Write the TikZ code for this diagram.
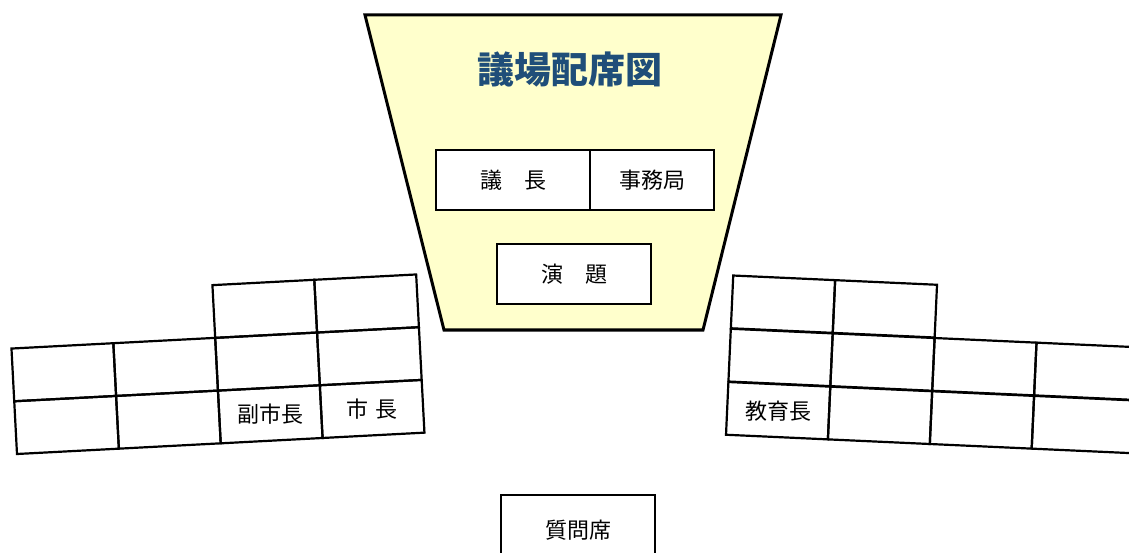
\documentclass[tikz,border=0pt]{standalone}
\usepackage{fontspec}
\newfontfamily\cjk{Noto Sans CJK JP}
\usepackage{xcolor}
\usetikzlibrary{positioning}
\definecolor{podium}{RGB}{255,255,204}
\definecolor{titleblue}{RGB}{31,78,121}
\tikzset{
	desk/.style={draw, line width=1pt, fill=white, inner sep=0pt, minimum height=30pt, font=\cjk\fontsize{11}{13}\selectfont},
	seat/.style={draw, line width=1.1pt, inner sep=0pt, minimum width=51pt, minimum height=26.4pt},
	seatlabel/.style={font=\cjk\fontsize{11}{13}\selectfont, inner sep=0pt}
}

\begin{document}
\begin{tikzpicture}[x=0.5pt, y=0.5pt]
	\useasboundingbox (0,0) rectangle (1129,552);
	\fill[white] (0,0) rectangle (1129,552);
	
	% Podium area
	\coordinate (p1) at (365,537); %top left
	\coordinate (p2) at (781,537); %top right
	\coordinate (p3) at (703,222); %bottom right
	\coordinate (p4) at (444,222); %bottom left
	\draw[line width=1.5pt, fill=podium] (p1) -- (p2) -- (p3) -- (p4) -- cycle;
	
	\node[font=\cjk\bfseries\fontsize{18.5}{22}\selectfont, text=titleblue] (title) at (570,482) {議場配席図};
	
	% Desks on the podium
	\node[desk, minimum width=77pt] (chair) at (513,372) {議　長};
	\node[desk, minimum width=62pt, right=-1pt of chair] (office) {事務局};
	\node[desk, minimum width=77pt] (lectern) at (574,278) {演　題};
	
	% Question seat
	\node[desk, minimum width=77pt, minimum height=35pt] (question) at (578,22) {質問席};
	
	% Left seats (mayor side)
	\begin{scope}[shift={(17,98)}, rotate=3]
		\foreach \c in {0,...,3}
			\foreach \r in {0,1}
				\node[seat, rotate=3] (L-\c-\r) at ({(\c+0.5)*102},{(\r+0.5)*52.8}) {};
		\foreach \c in {2,3}
			\node[seat, rotate=3] (L-\c-2) at ({(\c+0.5)*102},{2.5*52.8}) {};
	\end{scope}
	\node[seatlabel] (deputy) at (L-2-0) {副市長};
	\node[seatlabel] (mayor) at (L-3-0) {市\hspace{0.3em}長};
	
	% Right seats (education side)
	\begin{scope}[shift={(726,117)}, rotate=-2.6]
		\foreach \c in {0,...,3}
			\foreach \r in {0,1}
				\node[seat, rotate=-2.6] (R-\c-\r) at ({(\c+0.5)*102},{(\r+0.5)*53.3}) {};
		\foreach \c in {0,1}
			\node[seat, rotate=-2.6] (R-\c-2) at ({(\c+0.5)*102},{2.5*53.3}) {};
	\end{scope}
	\node[seatlabel] (education) at (R-0-0) {教育長};
\end{tikzpicture}
\end{document}
